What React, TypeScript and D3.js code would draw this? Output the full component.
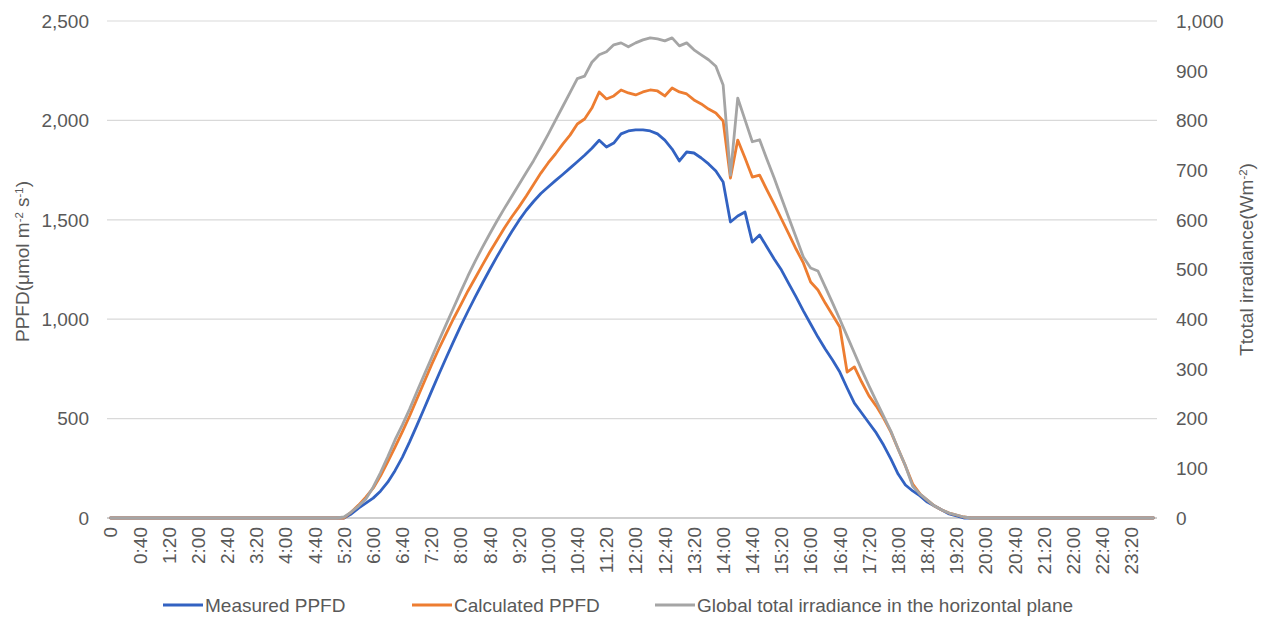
import React from "react";
import * as d3 from "d3";

// 10-minute samples over one day (0:00 … 23:50)
const slotCount = 144;
const slots: number[] = d3.range(slotCount);

// Axis labels shown every 40 minutes
const tickLabels: string[] = [
  "0", "0:40", "1:20", "2:00", "2:40", "3:20", "4:00", "4:40", "5:20",
  "6:00", "6:40", "7:20", "8:00", "8:40", "9:20", "10:00", "10:40", "11:20",
  "12:00", "12:40", "13:20", "14:00", "14:40", "15:20", "16:00", "16:40",
  "17:20", "18:00", "18:40", "19:20", "20:00", "20:40", "21:20", "22:00",
  "22:40", "23:20",
];

const leftTicks: number[] = [0, 500, 1000, 1500, 2000, 2500];
const rightTicks: number[] = [0, 100, 200, 300, 400, 500, 600, 700, 800, 900, 1000];

// Measured PPFD (µmol m-2 s-1)
const measuredPPFD: number[] = [
  0, 0, 0, 0, 0, 0, 0, 0, 0, 0, 0, 0, 0, 0, 0, 0,
  0, 0, 0, 0, 0, 0, 0, 0, 0, 0, 0, 0, 0, 0, 0, 0,
  0, 20, 50, 75, 100, 135, 180, 238, 305, 383, 466, 551, 637, 722, 805, 886,
  965, 1040, 1112, 1182, 1250, 1316, 1379, 1440, 1497, 1548, 1592, 1632, 1665, 1697, 1728, 1760,
  1792, 1825, 1860, 1900, 1866, 1886, 1932, 1947, 1952, 1952, 1947, 1932, 1901, 1856, 1796, 1841,
  1836, 1811, 1781, 1745, 1690, 1489, 1519, 1539, 1388, 1424, 1363, 1303, 1247, 1179, 1112, 1042,
  976, 910, 850, 795, 734, 654, 578, 528, 478, 428, 367, 297, 221, 166, 136, 111,
  80, 60, 40, 20, 10, 0, 0, 0, 0, 0, 0, 0, 0, 0, 0, 0,
  0, 0, 0, 0, 0, 0, 0, 0, 0, 0, 0, 0, 0, 0, 0, 0,
];

// Calculated PPFD (µmol m-2 s-1)
const calculatedPPFD: number[] = [
  0, 0, 0, 0, 0, 0, 0, 0, 0, 0, 0, 0, 0, 0, 0, 0,
  0, 0, 0, 0, 0, 0, 0, 0, 0, 0, 0, 0, 0, 0, 0, 0,
  0, 30, 65, 105, 150, 211, 282, 357, 433, 513, 599, 684, 770, 850, 926, 1001,
  1071, 1142, 1207, 1273, 1338, 1398, 1459, 1514, 1565, 1620, 1678, 1735, 1786, 1831, 1881, 1926,
  1982, 2007, 2062, 2143, 2108, 2123, 2153, 2138, 2128, 2143, 2153, 2148, 2123, 2163, 2143, 2133,
  2103, 2083, 2057, 2037, 1997, 1710, 1901, 1811, 1715, 1725, 1650, 1579, 1504, 1429, 1353, 1283,
  1187, 1147, 1081, 1021, 961, 734, 760, 684, 614, 563, 503, 433, 347, 262, 171, 121,
  90, 60, 40, 25, 15, 5, 0, 0, 0, 0, 0, 0, 0, 0, 0, 0,
  0, 0, 0, 0, 0, 0, 0, 0, 0, 0, 0, 0, 0, 0, 0, 0,
];

// Global total irradiance in the horizontal plane (W m-2)
const globalIrradiance: number[] = [
  0, 0, 0, 0, 0, 0, 0, 0, 0, 0, 0, 0, 0, 0, 0, 0,
  0, 0, 0, 0, 0, 0, 0, 0, 0, 0, 0, 0, 0, 0, 0, 0,
  2, 12, 24, 38, 62, 91, 123, 157, 187, 219, 254, 288, 322, 356, 389, 422,
  455, 487, 517, 545, 572, 598, 623, 647, 671, 695, 719, 745, 772, 800, 828, 856,
  884, 889, 917, 932, 938, 952, 956, 948, 956, 962, 966, 964, 960, 966, 950, 956,
  942, 932, 922, 909, 871, 690, 845, 801, 757, 761, 722, 684, 644, 604, 565, 525,
  503, 497, 465, 433, 400, 366, 332, 298, 266, 235, 205, 175, 139, 105, 64, 48,
  36, 24, 16, 10, 6, 2, 0, 0, 0, 0, 0, 0, 0, 0, 0, 0,
  0, 0, 0, 0, 0, 0, 0, 0, 0, 0, 0, 0, 0, 0, 0, 0,
];

const seriesNames = ["Measured PPFD", "Calculated PPFD", "Global total irradiance in the horizontal plane"];
const seriesColors = ["#3262c2", "#ed7d31", "#a5a5a5"];

const W = 1263;
const H = 626;
const plot = { left: 107, right: 1157, top: 21, bottom: 518 };
const FONT = "'Liberation Sans', Arial, sans-serif";
const TEXT = "#595959";
const FS = 19;

export default function App() {
  const x = d3
    .scalePoint<number>()
    .domain(slots)
    .range([plot.left, plot.right])
    .padding(0.5);
  const yL = d3.scaleLinear().domain([0, 2500]).range([plot.bottom, plot.top]);
  const yR = d3.scaleLinear().domain([0, 1000]).range([plot.bottom, plot.top]);

  const lineL = d3
    .line<number>()
    .x((_, i) => x(i) as number)
    .y((v) => yL(v));
  const lineR = d3
    .line<number>()
    .x((_, i) => x(i) as number)
    .y((v) => yR(v));

  const paths = [
    lineL(measuredPPFD),
    lineL(calculatedPPFD),
    lineR(globalIrradiance),
  ];

  const labelSlots = tickLabels.map((_, k) => k * 4);

  // legend layout: line swatch then text
  const legendY = 605;
  const legendItems = [
    { x: 163, name: seriesNames[0], color: seriesColors[0] },
    { x: 412, name: seriesNames[1], color: seriesColors[1] },
    { x: 655, name: seriesNames[2], color: seriesColors[2] },
  ];

  const leftTitleY = (plot.top + plot.bottom) / 2 - 8;
  const rightTitleY = (plot.top + plot.bottom) / 2 - 10;

  return (
    <svg
      width={W}
      height={H}
      style={{ position: "absolute", left: 0, top: 0, background: "#ffffff" }}
      fontFamily={FONT}
    >
      <rect width={W} height={H} fill="#ffffff" />

      {/* horizontal gridlines */}
      {leftTicks.map((t) => (
        <line
          key={`g${t}`}
          x1={plot.left}
          x2={plot.right}
          y1={yL(t)}
          y2={yL(t)}
          stroke={t === 0 ? "#bfbfbf" : "#d9d9d9"}
          strokeWidth={t === 0 ? 1.5 : 1.2}
        />
      ))}

      {/* left axis labels */}
      {leftTicks.map((t) => (
        <text
          key={`l${t}`}
          x={89}
          y={yL(t)}
          dy="0.36em"
          textAnchor="end"
          fontSize={FS}
          fill={TEXT}
        >
          {d3.format(",")(t)}
        </text>
      ))}

      {/* right axis labels */}
      {rightTicks.map((t) => (
        <text
          key={`r${t}`}
          x={1176}
          y={yR(t)}
          dy="0.36em"
          textAnchor="start"
          fontSize={FS}
          fill={TEXT}
        >
          {d3.format(",")(t)}
        </text>
      ))}

      {/* category labels */}
      {labelSlots.map((s, k) => (
        <text
          key={`x${k}`}
          transform={`translate(${x(s)},527) rotate(-90)`}
          dy="0.36em"
          textAnchor="end"
          fontSize={FS}
          fill={TEXT}
        >
          {tickLabels[k]}
        </text>
      ))}

      {/* axis titles */}
      <text
        transform={`translate(22,${leftTitleY}) rotate(-90)`}
        dy="0.36em"
        textAnchor="middle"
        fontSize={FS}
        fill={TEXT}
      >
        PPFD(μmol m
        <tspan baselineShift="super" fontSize={FS * 0.6}>-2</tspan>
        <tspan> s</tspan>
        <tspan baselineShift="super" fontSize={FS * 0.6}>-1</tspan>
        <tspan>)</tspan>
      </text>
      <text
        transform={`translate(1246,${rightTitleY}) rotate(-90)`}
        dy="0.36em"
        textAnchor="middle"
        fontSize={FS}
        fill={TEXT}
      >
        Ttotal irradiance(Wm
        <tspan baselineShift="super" fontSize={FS * 0.6}>-2</tspan>
        <tspan>)</tspan>
      </text>

      {/* series */}
      {paths.map((d, i) => (
        <path
          key={`s${i}`}
          d={d ?? ""}
          fill="none"
          stroke={seriesColors[i]}
          strokeWidth={2.8}
          strokeLinejoin="round"
          strokeLinecap="round"
        />
      ))}

      {/* legend */}
      {legendItems.map((it) => (
        <g key={it.name}>
          <line
            x1={it.x}
            x2={it.x + 40}
            y1={legendY}
            y2={legendY}
            stroke={it.color}
            strokeWidth={3}
          />
          <text
            x={it.x + 42}
            y={legendY}
            dy="0.36em"
            fontSize={FS}
            fill={TEXT}
          >
            {it.name}
          </text>
        </g>
      ))}
    </svg>
  );
}
